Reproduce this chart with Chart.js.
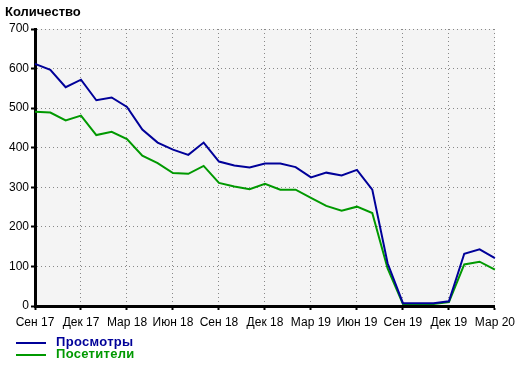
<!DOCTYPE html>
<html>
<head>
<meta charset="utf-8">
<script src="https://cdn.jsdelivr.net/npm/chart.js@4"></script>
<style>
  body { margin: 0; background: #fff; font-family: "Liberation Sans", Arial, sans-serif; }
  #wrap { position: relative; width: 520px; height: 366px; }
  #title { position: absolute; left: 5px; top: 4px; font-size: 13px; font-weight: bold; color: #000; }
  .leg { position: absolute; left: 16px; font-size: 13px; font-weight: bold; letter-spacing: 0.3px; }
  .leg i { display: inline-block; width: 30px; height: 2px; vertical-align: middle; margin-right: 10px; }
</style>
</head>
<body>
<div id="wrap">
  <canvas id="chart" width="520" height="366"></canvas>
  <div id="title">Количество</div>
  <div class="leg" style="top:334px;color:#000099"><i style="background:#000099"></i>Просмотры</div>
  <div class="leg" style="top:346px;color:#009900"><i style="background:#009900"></i>Посетители</div>
</div>
<script>
const months = [
  'Сен 17', 'Окт 17', 'Ноя 17', 'Дек 17', 'Янв 18', 'Фев 18', 'Мар 18', 'Апр 18',
  'Май 18', 'Июн 18', 'Июл 18', 'Авг 18', 'Сен 18', 'Окт 18', 'Ноя 18', 'Дек 18',
  'Янв 19', 'Фев 19', 'Мар 19', 'Апр 19', 'Май 19', 'Июн 19', 'Июл 19', 'Авг 19',
  'Сен 19', 'Окт 19', 'Ноя 19', 'Дек 19', 'Янв 20', 'Фев 20', 'Мар 20'
];
const views = [
  612, 597, 553, 572, 520, 527, 503, 446, 413, 395, 382, 413, 365, 355, 350, 360,
  360, 351, 325, 337, 330, 344, 294, 108, 7, 7, 7, 12, 132, 143, 121
];
const visitors = [
  491, 489, 469, 481, 432, 440, 422, 380, 361, 336, 334, 354, 311, 302, 295, 309,
  294, 294, 273, 253, 241, 251, 235, 95, 5, 5, 5, 10, 105, 112, 92
];

// grey plot background
const plotBg = {
    id: 'plotBg',
    beforeDraw(chart) {
        const a = chart.chartArea;
        chart.ctx.save();
        chart.ctx.fillStyle = '#f4f4f4';
        chart.ctx.fillRect(a.left, a.top, a.right - a.left, a.bottom - a.top);
        chart.ctx.restore();
    }
};

const ctx = document.getElementById('chart').getContext('2d');
new Chart(ctx, {
    type: 'line',
    data: {
        labels: months,
        datasets: [{
            label: 'Просмотры',
            data: views,
            borderColor: '#000099',
            borderWidth: 2,
            pointRadius: 0,
            tension: 0
        }, {
            label: 'Посетители',
            data: visitors,
            borderColor: '#009900',
            borderWidth: 2,
            pointRadius: 0,
            tension: 0
        }]
    },
    options: {
        responsive: false,
        animation: false,
        layout: { padding: { top: 29, right: 25, bottom: 35, left: 0 } },
        plugins: {
            legend: { display: false },
            tooltip: { enabled: false }
        },
        scales: {
            x: {
                afterFit: s => { s.height = 25; },
                grid: {
                    color: '#888',
                    lineWidth: 1,
                    tickColor: '#000',
                    tickWidth: 2,
                    tickLength: 4
                },
                border: { color: '#000', width: 3, dash: [1, 3] },
                ticks: {
                    autoSkip: false,
                    maxRotation: 0,
                    padding: 5,
                    color: '#000',
                    font: { family: 'Liberation Sans', size: 12 },
                    callback: function(v, i) { return i % 3 === 0 ? this.getLabelForValue(v) : null; }
                }
            },
            y: {
                min: 0,
                max: 700,
                afterFit: s => { s.width = 35; },
                grid: {
                    color: '#888',
                    lineWidth: 1,
                    tickColor: '#000',
                    tickWidth: 2,
                    tickLength: 4
                },
                border: { color: '#000', width: 3, dash: [1, 3] },
                ticks: {
                    stepSize: 100,
                    padding: 2,
                    color: '#000',
                    font: { family: 'Liberation Sans', size: 12 }
                }
            }
        }
    },
    plugins: [plotBg]
});
</script>
</body>
</html>
